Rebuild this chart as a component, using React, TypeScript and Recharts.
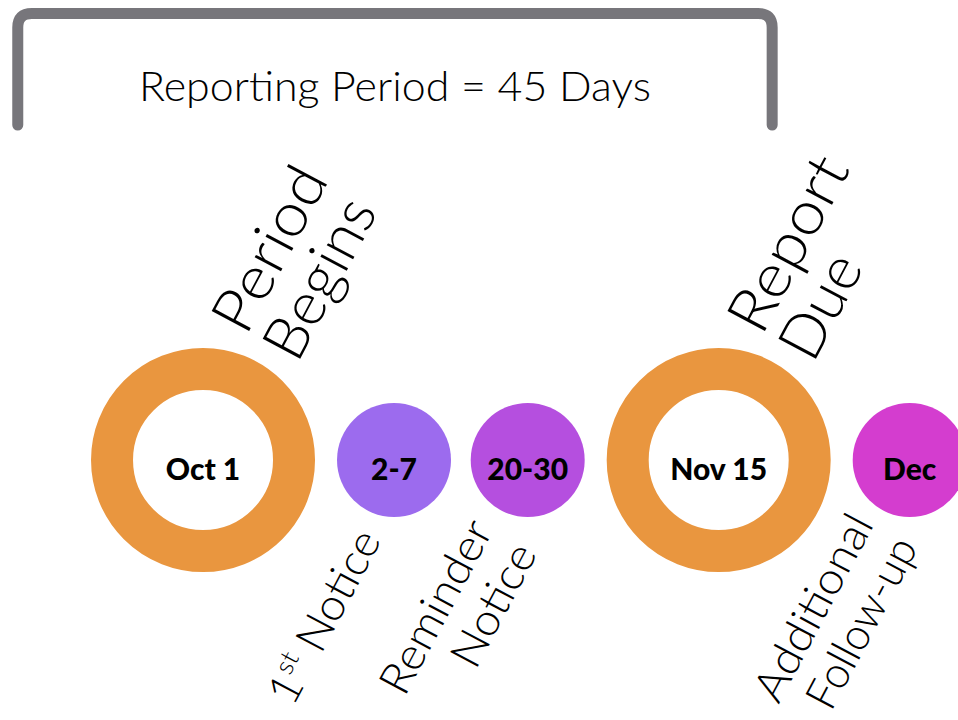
import { ScatterChart, Scatter, XAxis, YAxis, ReferenceArea } from 'recharts';

// timeline content
const dates = ['Oct 1', '2-7', '20-30', 'Nov 15', 'Dec'];
const positions = [0, 1, 1.7, 2.7, 3.7];
const kinds = ['milestone', 'step', 'step', 'milestone', 'step'];
const captions = [
  ['Period', 'Begins'],
  ['1st Notice'],
  ['Reminder', 'Notice'],
  ['Report', 'Due'],
  ['Additional', 'Follow-up'],
];
const periodTitle = 'Reporting Period = 45 Days';
const periodSpan = [-0.97, 2.98];
const periodBand = [3.35, 4.465];

// look
const COLORS = ['#E9963F', '#9C6BEE', '#B54FDF', '#E9963F', '#D43DCF'];
const BRACKET = '#77767B';
const FONT = 'Lato, "Noto Sans", sans-serif';
const ANGLE = -62;
// anchor of first caption line, relative to the marker centre
const CAPTION_ANCHOR = [
  { dx: 43, dy: -123 },
  { dx: -12, dy: 80 },
  { dx: -34, dy: 70 },
  { dx: 43, dy: -123 },
  { dx: -35, dy: 64 },
];
const CAPTION_LEN = [[178, 173], [190], [190, 133], [190, 110], [205, 187]];

const rows = dates.map((date, i) => ({
  pos: positions[i],
  lane: 0,
  date,
  kind: kinds[i],
  caption: captions[i],
  idx: i,
}));

function CaptionLine({ text, y, anchor, size, len }: any) {
  const m = text.match(/^(\d+)(st|nd|rd|th)( .*)$/);
  if (m) {
    return (
      <text x={0} y={y} textAnchor={anchor} fontSize={size} textLength={len} lengthAdjust="spacingAndGlyphs">
        <tspan>{m[1]}</tspan>
        <tspan fontSize={size * 0.6} dy={-size * 0.4}>{m[2]}</tspan>
        <tspan dy={size * 0.4}>{m[3]}</tspan>
      </text>
    );
  }
  return (
    <text x={0} y={y} textAnchor={anchor} fontSize={size} textLength={len} lengthAdjust="spacingAndGlyphs">
      {text}
    </text>
  );
}

function Marker(props: any) {
  const { cx, cy, payload } = props;
  const i = payload.idx;
  const major = payload.kind === 'milestone';
  const a = CAPTION_ANCHOR[i];
  const size = major ? 60 : 44;
  const gap = major ? 58 : 50;
  const anchor = major ? 'start' : 'end';
  return (
    <g>
      {major ? (
        <circle cx={cx} cy={cy} r={91} fill="none" stroke={COLORS[i]} strokeWidth={42} />
      ) : (
        <circle cx={cx} cy={cy} r={57} fill={COLORS[i]} />
      )}
      <text
        x={cx}
        y={cy + 20}
        textAnchor="middle"
        fontFamily={FONT}
        fontWeight={900}
        fontSize={30}
        fill="#000"
      >
        {payload.date}
      </text>
      <g
        transform={`translate(${cx + a.dx},${cy + a.dy}) rotate(${ANGLE})`}
        fontFamily={FONT}
        fontWeight={300}
        fill="#000"
      >
        {payload.caption.map((line: string, k: number) => (
          <CaptionLine key={k} text={line} y={k * gap} anchor={anchor} size={size} len={CAPTION_LEN[i][k]} />
        ))}
      </g>
    </g>
  );
}

function Bracket({ x, y, width, height }: any) {
  const r = 14;
  const d = `M${x},${y + height} L${x},${y + r} Q${x},${y} ${x + r},${y} L${x + width - r},${y} Q${x + width},${y} ${x + width},${y + r} L${x + width},${y + height}`;
  return (
    <g>
      <path d={d} fill="none" stroke={BRACKET} strokeWidth={11} strokeLinecap="round" strokeLinejoin="round" />
      <text
        x={x + width / 2}
        y={y + 87}
        textAnchor="middle"
        fontFamily={FONT}
        fontWeight={300}
        fontSize={41}
        fill="#000"
        textLength={512}
        lengthAdjust="spacingAndGlyphs"
      >
        {periodTitle}
      </text>
    </g>
  );
}

export default function App() {
  return (
    <div style={{ position: 'absolute', left: 0, top: 0, background: '#fff' }}>
      <ScatterChart width={958} height={720} margin={{ top: 0, right: 0, bottom: 0, left: 0 }}>
        <XAxis type="number" dataKey="pos" domain={[-1.063, 3.953]} hide allowDataOverflow />
        <YAxis type="number" dataKey="lane" domain={[-2.6, 4.6]} hide allowDataOverflow />
        <ReferenceArea
          x1={periodSpan[0]}
          x2={periodSpan[1]}
          y1={periodBand[0]}
          y2={periodBand[1]}
          shape={<Bracket />}
        />
        <Scatter data={rows} shape={<Marker />} isAnimationActive={false} />
      </ScatterChart>
    </div>
  );
}
